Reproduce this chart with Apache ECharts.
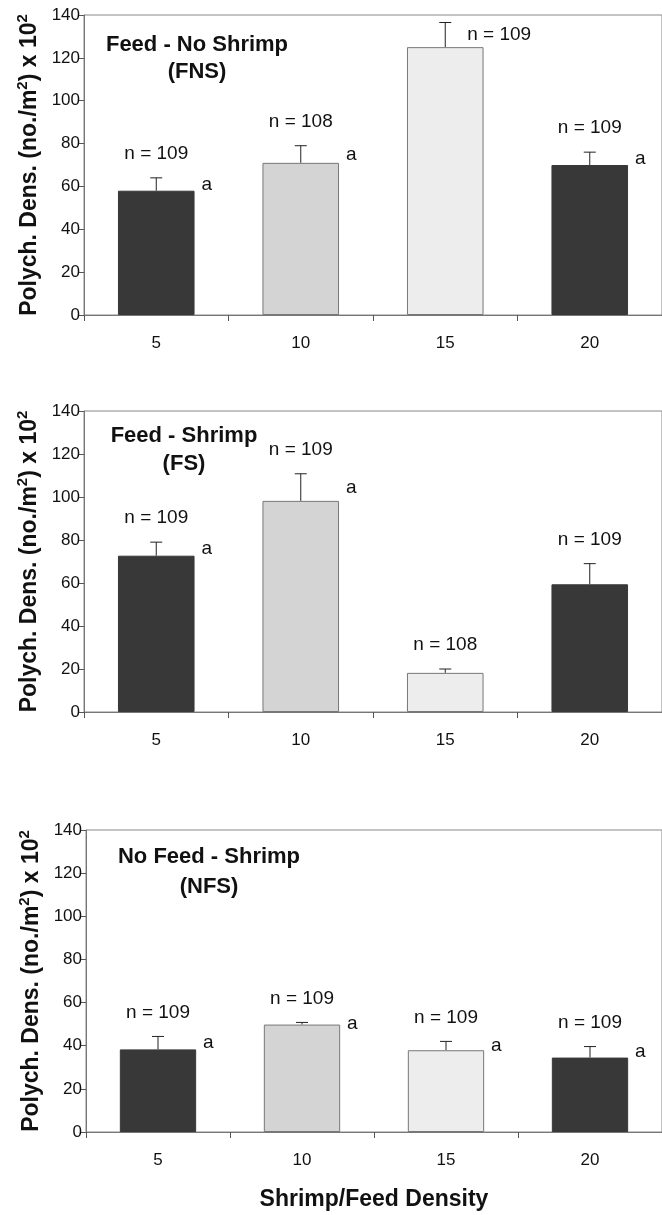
<!DOCTYPE html>
<html>
<head>
<meta charset="utf-8">
<script src="https://cdn.jsdelivr.net/npm/echarts@6/dist/echarts.min.js"></script>
<style>
html,body{margin:0;padding:0;background:#fff;}
#chart{width:662px;height:1215px;}
</style>
</head>
<body>
<div id="chart"></div>
<script>
// ---- data ----
const categories = ['5', '10', '15', '20'];
const yTicks = [0, 20, 40, 60, 80, 100, 120, 140];

const fnsMean = [58, 71, 125, 70];
const fnsErrTop = [64, 79, 136.5, 76];
const fnsN = [109, 108, 109, 109];
const fnsLetter = ['a', 'a', '', 'a'];

const fsMean = [72.7, 98.2, 18.2, 59.4];
const fsErrTop = [79, 110.8, 20, 69];
const fsN = [109, 109, 108, 109];
const fsLetter = ['a', 'a', '', ''];

const nfsMean = [38.3, 49.8, 37.9, 34.5];
const nfsErrTop = [44.3, 50.8, 42, 39.6];
const nfsN = [109, 109, 109, 109];
const nfsLetter = ['a', 'a', 'a', 'a'];

const panelTitles = [['Feed - No Shrimp', '(FNS)'], ['Feed - Shrimp', '(FS)'], ['No Feed - Shrimp', '(NFS)']];
const yAxisTitle = 'Polych. Dens. (no./m{sup|2}) x 10{sup|2}';
const xAxisTitle = 'Shrimp/Feed Density';

// ---- layout / style ----
const FONT = 'Liberation Sans, Arial, sans-serif';
const barColors = ['#383838', '#d4d4d4', '#ededed', '#383838'];
const barBorders = ['#383838', '#777', '#777', '#383838'];
const grids = [
  { left: 84, right: -6, top: 15, height: 300 },
  { left: 84, right: -6, top: 411, height: 301 },
  { left: 86, right: -8, top: 830, height: 302 }
];
const titlePos = [[197, 45, 72], [184, 436, 464], [209, 857, 887]];

const panels = [
  { mean: fnsMean, err: fnsErrTop, n: fnsN, letter: fnsLetter },
  { mean: fsMean, err: fsErrTop, n: fsN, letter: fsLetter },
  { mean: nfsMean, err: nfsErrTop, n: nfsN, letter: nfsLetter }
];

const chart = echarts.init(document.getElementById('chart'), null, { renderer: 'canvas' });

const xAxes = [], yAxes = [], series = [], graphics = [];
panels.forEach((p, i) => {
  xAxes.push({
    type: 'category', gridIndex: i, data: categories,
    axisLine: { show: true, lineStyle: { color: '#777', width: 1 } },
    axisTick: { show: true, alignWithLabel: false, length: 6, lineStyle: { color: '#555' } },
    axisLabel: { color: '#111', fontSize: 17, fontFamily: FONT, margin: 20 },
    name: i === 2 ? xAxisTitle : '',
    nameLocation: 'middle', nameGap: 56,
    nameTextStyle: { color: '#111', fontSize: 23, fontWeight: 'bold', fontFamily: FONT }
  });
  yAxes.push({
    type: 'value', gridIndex: i, min: 0, max: 140, interval: 20,
    axisLine: { show: true, lineStyle: { color: '#777', width: 1 } },
    axisTick: { show: true, length: 5, lineStyle: { color: '#555' } },
    splitLine: { show: false },
    axisLabel: { color: '#111', fontSize: 17, fontFamily: FONT, margin: 4,
      formatter: v => yTicks.indexOf(v) >= 0 ? String(v) : '' },
    name: yAxisTitle, nameLocation: 'middle', nameRotate: 90, nameGap: 36,
    nameTextStyle: {
      color: '#111', fontSize: 23, fontWeight: 'bold', fontFamily: FONT,
      rich: { sup: { fontSize: 15, fontWeight: 'bold', fontFamily: FONT, color: '#111', verticalAlign: 'top', padding: [0, 0, 12, 0] } }
    }
  });
  series.push({
    type: 'bar', xAxisIndex: i, yAxisIndex: i, barWidth: '53%',
    data: p.mean.map((v, k) => ({
      value: v,
      itemStyle: { color: barColors[k], borderColor: barBorders[k], borderWidth: 1 }
    })),
    silent: true, animation: false
  });
  series.push({
    type: 'custom', xAxisIndex: i, yAxisIndex: i, clip: false, silent: true, animation: false,
    data: p.mean.map((v, k) => [k, v, p.err[k], p.n[k], p.letter[k]]),
    renderItem: function (params, api) {
      const idx = api.value(0);
      const mean = api.value(1), top = api.value(2);
      const n = p.n[idx], letter = p.letter[idx];
      const pm = api.coord([idx, mean]);
      const pt = api.coord([idx, top]);
      const bw = api.size([1, 0])[0];
      const gTop = params.coordSys.y;
      const children = [
        { type: 'line', shape: { x1: pm[0], y1: pm[1], x2: pt[0], y2: pt[1] }, style: { stroke: '#222', lineWidth: 1 } },
        { type: 'line', shape: { x1: pt[0] - 6, y1: pt[1], x2: pt[0] + 6, y2: pt[1] }, style: { stroke: '#222', lineWidth: 1 } }
      ];
      let nx = pt[0], ny = pt[1] - 24, align = 'center';
      if (ny - 8 < gTop) { nx = pt[0] + 22; ny = pt[1] + 12; align = 'left'; }
      children.push({ type: 'text', style: { text: 'n = ' + n, x: nx, y: ny, textAlign: align, textVerticalAlign: 'middle', fill: '#111', font: '19px ' + FONT } });
      if (letter) {
        children.push({ type: 'text', style: { text: letter, x: pm[0] + bw * 0.35, y: (pm[1] + pt[1]) / 2, textAlign: 'center', textVerticalAlign: 'middle', fill: '#111', font: '19px ' + FONT } });
      }
      return { type: 'group', children: children };
    }
  });
  const tp = titlePos[i];
  graphics.push({ type: 'text', silent: true, style: { text: panelTitles[i][0], x: tp[0], y: tp[1], textAlign: 'center', textVerticalAlign: 'middle', fill: '#111', font: 'bold 22px ' + FONT } });
  graphics.push({ type: 'text', silent: true, style: { text: panelTitles[i][1], x: tp[0], y: tp[2], textAlign: 'center', textVerticalAlign: 'middle', fill: '#111', font: 'bold 22px ' + FONT } });
});

chart.setOption({
  animation: false,
  backgroundColor: '#fff',
  grid: grids.map(g => Object.assign({ show: true, borderColor: '#888', borderWidth: 1, backgroundColor: 'transparent', containLabel: false }, g)),
  xAxis: xAxes,
  yAxis: yAxes,
  series: series,
  graphic: graphics
});
</script>
</body>
</html>
